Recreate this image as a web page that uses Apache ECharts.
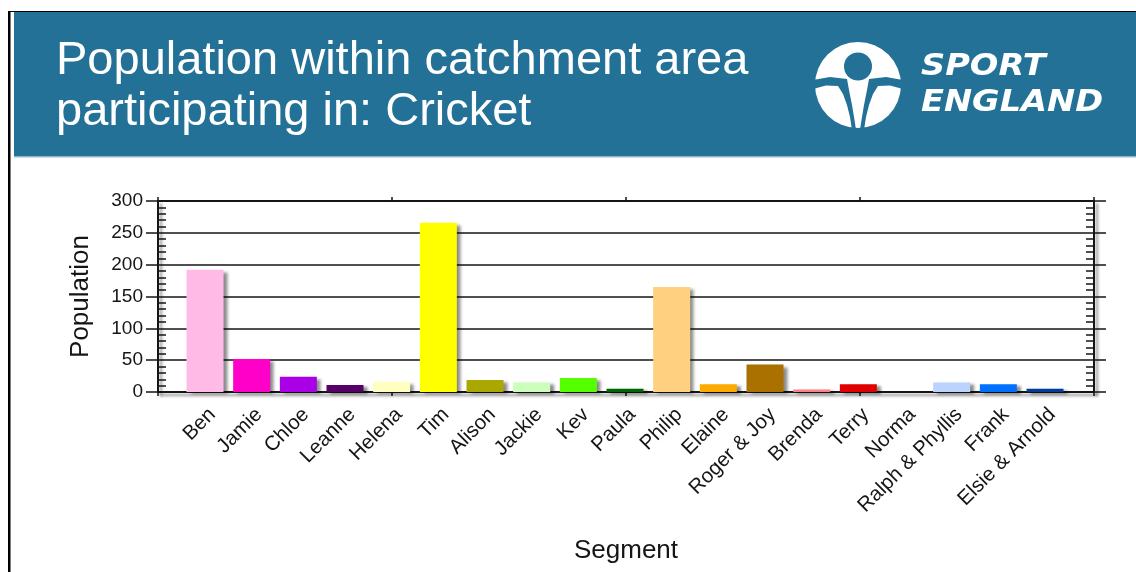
<!DOCTYPE html>
<html>
<head>
<meta charset="utf-8">
<script src="https://cdn.jsdelivr.net/npm/echarts@6/dist/echarts.min.js"></script>
<style>
html,body{margin:0;padding:0;background:#fff;}
#chart{width:1136px;height:572px;}
</style>
</head>
<body>
<div id="chart"></div>
<script>
// ---- data ----
const titleLines = ['Population within catchment area', 'participating in: Cricket'];
const logoLines = ['SPORT', 'ENGLAND'];
const categories = ['Ben','Jamie','Chloe','Leanne','Helena','Tim','Alison','Jackie','Kev','Paula','Philip','Elaine','Roger & Joy','Brenda','Terry','Norma','Ralph & Phyllis','Frank','Elsie & Arnold'];
const values = [192,52,24,11,16,266,19,15,22,5,165,12,43,4,12,0,15,12,5];
const barColors = ['#ffbbe6','#ff00c8','#aa00e6','#550066','#ffffc0','#ffff00','#aaa800','#ccffbb','#55ff00','#006600','#ffd080','#ffaa00','#aa7000','#ff8080','#e00000','#888888','#bbd4ff','#0070ff','#003d99'];
const yMin = 0, yMax = 300, yStep = 50;
const xAxisName = 'Segment';
const yAxisName = 'Population';

// ---- styling ----
const FONT = '"Liberation Sans", Arial, sans-serif';
const LOGO_FONT = '"DejaVu Sans", "Liberation Sans", sans-serif';
const BLUE = '#237196';
const INK = '#151515';
const frameShadow = {shadowColor:'rgba(0,0,0,0.45)', shadowBlur:3, shadowOffsetX:3, shadowOffsetY:3};

const chart = echarts.init(document.getElementById('chart'), null, {renderer:'canvas'});

const outerY = (pos, opts) => Object.assign({
  gridIndex:0, type:'value', position:pos, min:yMin, max:yMax, interval:yStep,
  axisLine:{show:true, onZero:false, lineStyle:Object.assign({color:INK, width:2}, frameShadow)},
  axisTick:{show:true, inside:false, length:12, lineStyle:{color:INK, width:1.5}},
  axisLabel:{show:false},
  splitLine:{show:false}
}, opts);

const leftGap = [[-45,-5],[-28,-8],[-11,-6],[-9,5],[-6,20],[-3.5,35],[-2,45],[-6,45],[-8,32],[-11,20],[-15,9],[-20,1],[-32,0.5],[-45,4]];
const rightGap = leftGap.map(p => [-p[0], p[1]]);

const option = {
  backgroundColor:'#fff',
  animation:false,
  textStyle:{fontFamily:FONT},
  graphic:{elements:[
    {type:'rect', z:-10, shape:{x:14, y:12, width:1122, height:145}, style:{fill:BLUE}},
    {type:'rect', z:-9, shape:{x:14, y:156, width:1122, height:1.5}, style:{fill:'#8bb8cf'}},
    {type:'rect', z:-9, shape:{x:8, y:11, width:1128, height:1}, style:{fill:'#000'}},
    {type:'rect', z:-9, shape:{x:8, y:11, width:2.5, height:561}, style:{fill:'#000'}},
    {type:'text', x:56, y:61, style:{text:titleLines[0], fill:'#fff', font:'47px ' + FONT, textAlign:'left', textVerticalAlign:'middle'}},
    {type:'text', x:56, y:112, style:{text:titleLines[1], fill:'#fff', font:'47px ' + FONT, textAlign:'left', textVerticalAlign:'middle'}},
    {type:'group', x:858, y:85, children:[
      {type:'circle', shape:{cx:0, cy:0, r:43}, style:{fill:'#fff'}},
      {type:'circle', shape:{cx:0, cy:-18.5, r:14}, style:{fill:BLUE}},
      {type:'polygon', shape:{points:leftGap}, style:{fill:BLUE}},
      {type:'polygon', shape:{points:rightGap}, style:{fill:BLUE}}
    ]},
    {type:'text', x:921, y:67, scaleX:1.12, style:{text:logoLines[0], fill:'#fff', font:'italic bold 30px ' + LOGO_FONT, textAlign:'left', textVerticalAlign:'middle'}},
    {type:'text', x:921, y:103, scaleX:1.12, style:{text:logoLines[1], fill:'#fff', font:'italic bold 30px ' + LOGO_FONT, textAlign:'left', textVerticalAlign:'middle'}}
  ]},
  grid:[
    {left:158, top:201, width:936, height:191, show:false},
    {left:181.67, top:201, width:886.67, height:191, show:false}
  ],
  xAxis:[
    {gridIndex:0, type:'value', position:'bottom', min:0, max:4, interval:1,
     axisLine:{show:true, onZero:false, lineStyle:Object.assign({color:INK, width:2}, frameShadow)},
     axisTick:{show:true, length:4, lineStyle:{color:INK, width:1.5}},
     axisLabel:{show:false}, splitLine:{show:false},
     name:xAxisName, nameLocation:'middle', nameGap:146,
     nameTextStyle:{fontSize:26, color:INK, fontFamily:FONT}},
    {gridIndex:0, type:'value', position:'top', min:0, max:4, interval:1,
     axisLine:{show:true, onZero:false, lineStyle:{color:INK, width:2}},
     axisTick:{show:true, length:4, lineStyle:{color:INK, width:1.5}},
     axisLabel:{show:false}, splitLine:{show:false}},
    {gridIndex:1, type:'category', data:categories, position:'bottom',
     axisLine:{show:false, onZero:false}, axisTick:{show:false},
     axisLabel:{interval:0, rotate:45, fontSize:20.5, color:INK, fontFamily:FONT, margin:12, verticalAlign:'top'},
     splitLine:{show:false}}
  ],
  yAxis:[
    outerY('left', {
      axisLabel:{show:true, fontSize:19, color:INK, fontFamily:FONT, margin:15},
      splitLine:{show:true, lineStyle:{color:INK, width:1.5}},
      name:yAxisName, nameLocation:'middle', nameGap:64.5,
      nameTextStyle:{fontSize:26, color:INK, fontFamily:FONT}
    }),
    outerY('left', {axisLine:{show:false, onZero:false}, axisTick:{show:false, inside:true, length:8},
      minorTick:{show:true, splitNumber:5, length:8, lineStyle:{color:INK, width:1.5}}}),
    outerY('right', {}),
    outerY('right', {axisLine:{show:false, onZero:false}, axisTick:{show:false, inside:true, length:8},
      minorTick:{show:true, splitNumber:5, length:8, lineStyle:{color:INK, width:1.5}}}),
    {gridIndex:1, type:'value', min:yMin, max:yMax, interval:yStep, show:false}
  ],
  series:[{
    type:'bar', xAxisIndex:2, yAxisIndex:4, barWidth:37,
    data:values.map((v,i)=>({value:v, itemStyle:{color:barColors[i]}})),
    itemStyle:{shadowColor:'rgba(0,0,0,0.45)', shadowBlur:3, shadowOffsetX:4, shadowOffsetY:2},
    z:3
  }]
};
chart.setOption(option);
</script>
</body>
</html>
